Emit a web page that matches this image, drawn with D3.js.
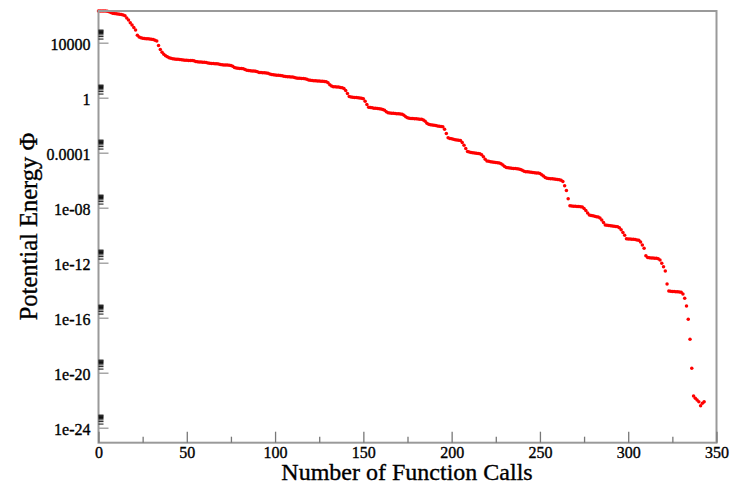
<!DOCTYPE html>
<html>
<head>
<meta charset="utf-8">
<script src="https://cdn.jsdelivr.net/npm/d3@7"></script>
<style>
  html, body { margin: 0; padding: 0; background: #fff; }
  svg { display: block; }
  text { font-family: "Liberation Serif", "DejaVu Serif", serif; fill: #000; stroke: #000; stroke-width: 0.35px; }
</style>
</head>
<body>
<svg id="chart" width="740" height="485"></svg>
<script>
// log10 of the potential energy Φ at each function call (index = call number)
const log10Energy = [
  // 0-15
  6.31, 6.31, 6.31, 6.30, 6.30, 6.29,
  6.25, 6.20, 6.15, 6.12, 6.10, 6.09, 6.07, 6.05, 6.02, 5.96,
  // 16-22
  5.80, 5.65, 5.45, 5.29, 5.10, 4.92, 4.55,
  // 23-33
  4.42, 4.36, 4.32, 4.30, 4.29, 4.28, 4.27, 4.25, 4.23, 4.18, 4.12,
  // 34-48
  3.80, 3.50, 3.30, 3.16, 3.05, 2.97, 2.90,
  2.86, 2.83, 2.81, 2.80, 2.79, 2.77, 2.76, 2.74,
  // 49-125
  2.73, 2.72, 2.71, 2.70, 2.70, 2.68, 2.64,
  2.61, 2.60, 2.59, 2.58, 2.57, 2.56, 2.53,
  2.50, 2.49, 2.48, 2.47, 2.46, 2.45, 2.42,
  2.39, 2.38, 2.38, 2.37, 2.36, 2.34, 2.28,
  2.20, 2.16, 2.14, 2.13, 2.12, 2.10, 2.05,
  2.00, 1.97, 1.96, 1.95, 1.94, 1.92, 1.88,
  1.84, 1.83, 1.82, 1.81, 1.80, 1.78, 1.73,
  1.68, 1.66, 1.65, 1.64, 1.63, 1.62, 1.60,
  1.56, 1.54, 1.53, 1.52, 1.51, 1.50, 1.46,
  1.43, 1.42, 1.41, 1.40, 1.39, 1.38, 1.34,
  1.29, 1.26, 1.25, 1.24, 1.23, 1.22, 1.21,
  // 126-164
  1.20, 1.19, 1.17, 1.16,
  1.08, 0.95, 0.85,
  0.80, 0.79, 0.78, 0.77, 0.75, 0.72, 0.66,
  0.52, 0.30, 0.08,
  0.05, 0.03, 0.02, 0.01, 0.00, -0.02, -0.04, -0.08,
  -0.25, -0.50, -0.70,
  -0.72, -0.74, -0.76, -0.77, -0.79, -0.80, -0.82, -0.85,
  -0.92, -1.02, -1.10,
  // 165-198
  -1.12, -1.13, -1.14, -1.15, -1.16, -1.17, -1.18, -1.20, -1.28,
  -1.38, -1.45, -1.50,
  -1.51, -1.52, -1.53, -1.54, -1.55, -1.56, -1.57, -1.62,
  -1.72, -1.85, -1.93,
  -1.96, -1.98, -2.00, -2.03, -2.05, -2.07, -2.09, -2.12,
  -2.30, -2.60, -2.92,
  // 199-254
  -2.96, -2.99, -3.02, -3.05, -3.07, -3.09, -3.12, -3.25,
  -3.45, -3.70, -3.92,
  -3.95, -3.98, -4.00, -4.02, -4.04, -4.06, -4.08, -4.15,
  -4.30, -4.48, -4.60,
  -4.63, -4.65, -4.67, -4.69, -4.71, -4.73, -4.75, -4.80,
  -4.90, -5.00, -5.08,
  -5.10, -5.11, -5.13, -5.14, -5.15, -5.17, -5.18, -5.22,
  -5.28, -5.34, -5.38,
  -5.39, -5.41, -5.42, -5.44, -5.45, -5.47, -5.48, -5.52,
  -5.60, -5.70, -5.80, -5.86,
  // 255-310
  -5.87, -5.89, -5.90, -5.92, -5.93, -5.95, -5.97, -6.00,
  -6.10, -6.40, -6.75, -7.35, -7.85,
  -7.88, -7.89, -7.90, -7.91, -7.92, -7.93, -7.95, -8.05,
  -8.20, -8.38, -8.53,
  -8.56, -8.59, -8.62, -8.65, -8.68, -8.75,
  -8.90, -9.08, -9.25,
  -9.27, -9.29, -9.31, -9.33, -9.34, -9.36, -9.38, -9.45,
  -9.60, -9.80, -10.00, -10.25,
  -10.27, -10.28, -10.29, -10.30, -10.32, -10.34, -10.36,
  -10.50, -10.72, -10.95, -11.50,
  // 311-343
  -11.62, -11.64, -11.65, -11.66, -11.67, -11.68, -11.72, -11.80,
  -12.04, -12.30, -12.60, -13.55, -14.05,
  -14.07, -14.09, -14.10, -14.11, -14.12, -14.13, -14.15, -14.28,
  -14.59, -15.15, -16.12, -17.57, -19.68, -21.69,
  -21.86, -21.99, -22.11, -22.40, -22.23, -22.11
];

const xTicks = [0, 50, 100, 150, 200, 250, 300, 350];
const xMinorTicks = [25, 75, 125, 175, 225, 275, 325];
const yTickExponents = [-24, -20, -16, -12, -8, -4, 0, 4];
const yTickLabels = ["1e-24", "1e-20", "1e-16", "1e-12", "1e-08", "0.0001", "1", "10000"];
const yMinorMultipliers = [2, 3, 4, 5, 6, 7, 8, 9];
const xTitle = "Number of Function Calls";
const yTitle = "Potential Energy \u03A6";

const svg = d3.select("#chart");
const plotLeft = 98.5, plotRight = 716.5, plotTop = 11, plotBottom = 442.7;

const x = d3.scaleLinear().domain([0, 350]).range([plotLeft, plotRight]);
const y = d3.scaleLog().domain([Math.pow(10, -25.09), Math.pow(10, 6.305)]).range([plotBottom, plotTop]);

const points = log10Energy.map((v, i) => ({ n: i, e: Math.pow(10, v) }));

// data dots
svg.append("g")
  .selectAll("circle")
  .data(points)
  .join("circle")
  .attr("cx", d => x(d.n))
  .attr("cy", d => y(d.e))
  .attr("r", 1.75)
  .attr("fill", "#ff0000");

// frame
svg.append("rect")
  .attr("x", plotLeft).attr("y", plotTop)
  .attr("width", plotRight - plotLeft).attr("height", plotBottom - plotTop)
  .attr("fill", "none")
  .attr("stroke", "#9a9a9a")
  .attr("stroke-width", 2);

// X axis major
const gx = svg.append("g").attr("transform", `translate(0,${plotBottom})`)
  .call(d3.axisBottom(x).tickValues(xTicks).tickSize(-11).tickPadding(3.5).tickFormat(d3.format("d")));
gx.select(".domain").remove();
gx.selectAll(".tick line").attr("stroke", "#777").attr("stroke-width", 1.3);
gx.selectAll(".tick text").attr("font-size", 16).attr("font-family", "Liberation Serif");

const gxm = svg.append("g").attr("transform", `translate(0,${plotBottom})`)
  .call(d3.axisBottom(x).tickValues(xMinorTicks).tickSize(-6).tickFormat(""));
gxm.select(".domain").remove();
gxm.selectAll(".tick line").attr("stroke", "#777").attr("stroke-width", 1.3);

// Y axis major
const yMajor = yTickExponents.map(e => Math.pow(10, e));
const gy = svg.append("g").attr("transform", `translate(${plotLeft},0)`)
  .call(d3.axisLeft(y).tickValues(yMajor).tickSize(-10).tickPadding(8)
    .tickFormat((d, i) => yTickLabels[i]));
gy.select(".domain").remove();
gy.selectAll(".tick line").attr("stroke", "#999").attr("stroke-width", 1.3);
gy.selectAll(".tick text").attr("font-size", 16).attr("font-family", "Liberation Serif").attr("dy", "0.4em");

// Y axis minor
const yMinor = [];
yTickExponents.forEach(e => yMinorMultipliers.forEach(m => yMinor.push(m * Math.pow(10, e))));
const gym = svg.append("g").attr("transform", `translate(${plotLeft},0)`)
  .call(d3.axisLeft(y).tickValues(yMinor).tickSize(-5).tickFormat(""));
gym.select(".domain").remove();
gym.selectAll(".tick line").attr("stroke", "#111").attr("stroke-width", 1);

// titles
svg.append("text")
  .attr("x", 407).attr("y", 480)
  .attr("text-anchor", "middle")
  .attr("font-size", 24)
  .text(xTitle);

svg.append("text")
  .attr("transform", "translate(36.5,226.5) rotate(-90)")
  .attr("text-anchor", "middle")
  .attr("font-size", 24.5)
  .text(yTitle);
</script>
</body>
</html>
